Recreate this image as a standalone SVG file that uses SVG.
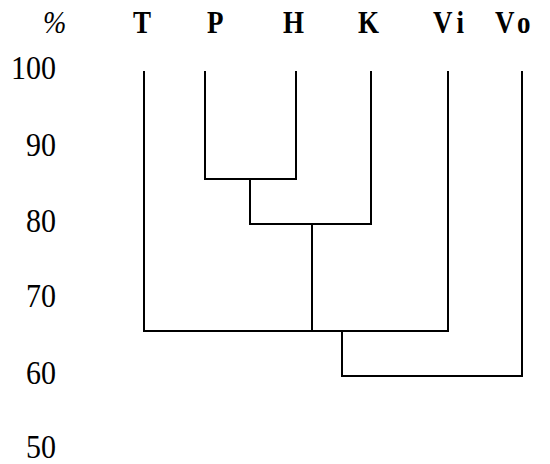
<svg xmlns="http://www.w3.org/2000/svg" width="550" height="464" viewBox="0 0 550 464">
<style>
text{font-family:'Liberation Serif','Times New Roman',Times,serif;fill:#000}
.hdr{font-weight:bold;font-size:27px}
.ax{font-size:30px;text-anchor:end}
.pct{font-style:italic;font-size:28px}
.ln{fill:none;stroke:#000;stroke-width:2;stroke-linecap:square}
</style>
<rect width="550" height="464" fill="#fff"/>
<g id="axis">
<text class="pct" transform="translate(43,33) scale(1,1.1)">%</text>
<text class="ax" transform="translate(56,79) scale(1,1.12)">100</text>
<text class="ax" transform="translate(56,156) scale(1,1.12)">90</text>
<text class="ax" transform="translate(56,232) scale(1,1.12)">80</text>
<text class="ax" transform="translate(56,307) scale(1,1.12)">70</text>
<text class="ax" transform="translate(56,384) scale(1,1.12)">60</text>
<text class="ax" transform="translate(56,458) scale(1,1.12)">50</text>
</g>
<g id="node-T"><text class="hdr" transform="translate(133,33) scale(1,1.2)">T</text></g>
<g id="node-P"><text class="hdr" transform="translate(207,33) scale(1,1.2)">P</text></g>
<g id="node-H"><text class="hdr" transform="translate(283,33) scale(1,1.2)">H</text></g>
<g id="node-K"><text class="hdr" transform="translate(358,33) scale(1,1.2)">K</text></g>
<g id="node-Vi"><text class="hdr" transform="translate(433,33) scale(1,1.2)" letter-spacing="5">Vi</text></g>
<g id="node-Vo"><text class="hdr" transform="translate(495,33) scale(1,1.2)" letter-spacing="5">Vo</text></g>
<g id="connectors">
<path class="ln" d="M205 72 V179 H296 V72"/>
<path class="ln" d="M250 179 V224 H371 V72"/>
<path class="ln" d="M144 72 V331 H448 V72"/>
<path class="ln" d="M312 224 V331"/>
<path class="ln" d="M342 331 V376 H522 V72"/>
</g>
</svg>
